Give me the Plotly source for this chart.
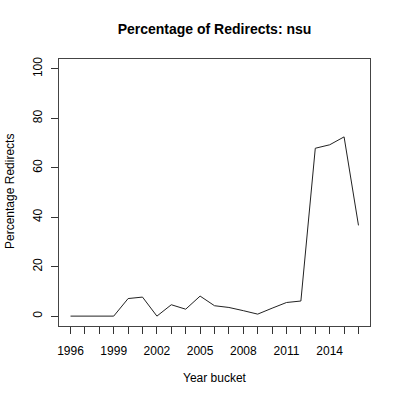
import plotly.graph_objects as go

years = list(range(1996, 2017))
redirect_pct = [0, 0, 0, 0, 7.1, 7.7, 0, 4.6, 2.8, 8.1, 4.2, 3.5, 2.2, 0.8, 3.2, 5.5, 6.1, 67.9, 69.3, 72.5, 36.7]
x_tick_labels = [str(y) if (y - 1996) % 3 == 0 else "" for y in years]
y_ticks = [0, 20, 40, 60, 80, 100]

font = "Liberation Sans, Arial, Helvetica, sans-serif"

# plot area in pixels
L, R, T, B = 59, 370, 59, 326
W, H = R - L, B - T

fig = go.Figure()
fig.add_trace(go.Scatter(x=years, y=redirect_pct, mode="lines",
                         line=dict(color="#222222", width=1), showlegend=False))

fig.update_layout(
    width=400, height=400,
    margin=dict(l=L, r=400 - R, t=T, b=400 - B),
    paper_bgcolor="white", plot_bgcolor="white",
    font=dict(family=font, size=12, color="black"),
    title=dict(text="<b>Percentage of Redirects: nsu</b>", x=214.5/400, xanchor="center",
               y=1 - 29/400, yanchor="middle", yref="container",
               font=dict(size=14, family=font, color="black")),
    xaxis=dict(range=[1995.2, 2016.8], tickvals=years, ticktext=x_tick_labels,
               ticks="outside", ticklen=7, tickcolor="#333", tickwidth=1,
               showline=True, linecolor="#444", linewidth=1, mirror=True,
               showgrid=False, zeroline=False, tickfont=dict(size=12),
               ticklabelstandoff=7),
    yaxis=dict(range=[-4, 104], tickvals=y_ticks, ticktext=[str(v) for v in y_ticks],
               ticks="outside", ticklen=7, tickcolor="#333", tickwidth=1,
               showline=True, linecolor="#444", linewidth=1, mirror=True,
               showgrid=False, zeroline=False, tickangle=-90, tickfont=dict(size=12),
               ticklabelstandoff=4),
    annotations=[
        dict(text="Year bucket", x=(214.5 - L) / W, y=(B - 378) / H, xref="paper", yref="paper",
             xanchor="center", yanchor="middle", showarrow=False, font=dict(size=12)),
        dict(text="Percentage Redirects", x=(10 - L) / W, y=(B - 192) / H, xref="paper", yref="paper",
             xanchor="center", yanchor="middle", showarrow=False, textangle=-90,
             font=dict(size=12)),
    ],
)
fig.write_html("out.html")
